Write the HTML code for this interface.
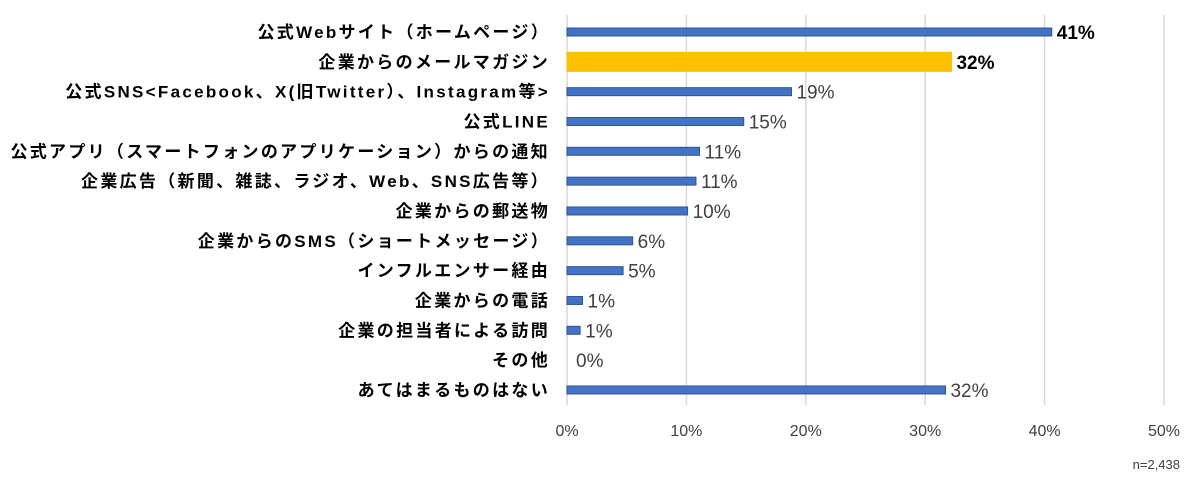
<!DOCTYPE html>
<html><head><meta charset="utf-8"><style>
body{margin:0;background:#fff;width:1200px;height:483px;overflow:hidden;font-family:"Liberation Sans","Noto Sans CJK JP",sans-serif}
</style></head><body>
<svg id="c" width="1200" height="483" xmlns="http://www.w3.org/2000/svg"></svg>
<script>
const categories=["公式Webサイト（ホームページ）","企業からのメールマガジン","公式SNS<Facebook、X(旧Twitter）、Instagram等>","公式LINE","公式アプリ（スマートフォンのアプリケーション）からの通知","企業広告（新聞、雑誌、ラジオ、Web、SNS広告等）","企業からの郵送物","企業からのSMS（ショートメッセージ）","インフルエンサー経由","企業からの電話","企業の担当者による訪問","その他","あてはまるものはない"];
const values=[40.6,32.2,18.8,14.8,11.1,10.8,10.1,5.5,4.7,1.3,1.1,0,31.7];
const valueLabels=["41%","32%","19%","15%","11%","11%","10%","6%","5%","1%","1%","0%","32%"];
const highlight=[false,true,false,false,false,false,false,false,false,false,false,false,false];
const ticks=[0,10,20,30,40,50];
const tickLabels=["0%","10%","20%","30%","40%","50%"];
const svg=document.getElementById('c');const NS="http://www.w3.org/2000/svg";
const x=v=>567+v*11.94;const y=i=>32+i*29.83;
function mk(t,a,txt){const e=document.createElementNS(NS,t);for(const k in a)e.setAttribute(k,a[k]);if(txt!==undefined)e.textContent=txt;svg.appendChild(e);return e;}
ticks.forEach((t,i)=>{
 const g=mk('line',{x1:x(t),x2:x(t),y1:15,y2:405,stroke:'#d9d9d9','stroke-width':1.5});
 
 
 const l=mk('text',{x:x(t),y:436,'text-anchor':'middle','font-size':16,fill:'#404040'},tickLabels[i]);
 
 
});
categories.forEach((c,i)=>{
 const cy=y(i);const h=highlight[i]?19:8;
 const l=mk('text',{x:550,y:cy+6,'text-anchor':'end','font-size':17,'letter-spacing':2.3,'font-weight':'bold',fill:'#000'},c);
 
 
 if(values[i]>0){
 const b=mk('rect',{x:x(0),y:cy-h/2,width:x(values[i])-x(0),height:h,fill:highlight[i]?'#ffc000':'#4472c4',stroke:highlight[i]?'#ffc000':'#2f5597','stroke-width':1});
 
 }
 const bold=i<2;
 const v=mk('text',{x:x(values[i])+(i===11?9:5),y:cy+7,'font-size':19,'font-weight':bold?'bold':'normal',fill:bold?'#000':'#404040'},valueLabels[i]);
 
 
});
const n=mk('text',{x:1180,y:469,'text-anchor':'end','font-size':13,fill:'#404040'},'n=2,438');


</script>
</body></html>
